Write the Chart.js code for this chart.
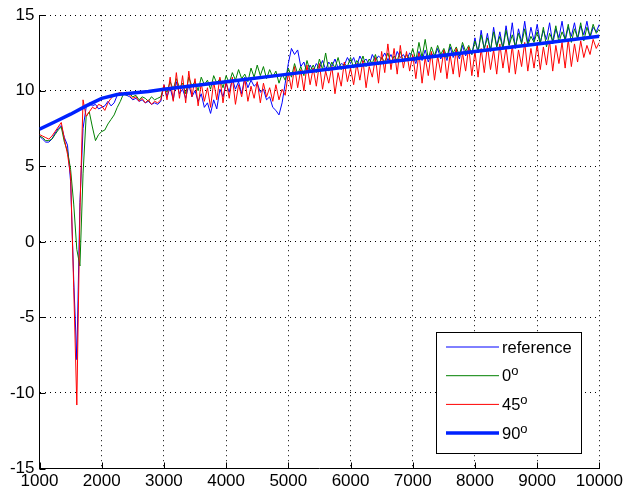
<!DOCTYPE html>
<html>
<head>
<meta charset="utf-8">
<script src="https://cdn.jsdelivr.net/npm/chart.js@4/dist/chart.umd.min.js"></script>
<style>
  html, body { margin: 0; padding: 0; background: #fff; }
  #wrap { width: 626px; height: 495px; }
</style>
</head>
<body>
<div id="wrap"><canvas id="myChart" width="626" height="495"></canvas></div>
<script>
// sample grid of the measured curves (Hz)
const freqStart = 1000;
const freqStep = 50;

// thin blue: reference
const refDb = [
    7.0, 6.8, 6.6, 6.6, 6.8, 7.2, 7.5, 7.7, 6.9, 6.4,
    4.0, -2.5, -7.8, 2.6, 7.5, 8.9, 9.2, 9.0, 9.1, 8.8,
    8.9, 9.0, 9.3, 9.0, 9.2, 9.7, 9.8, 9.8, 9.7, 9.6,
    9.4, 9.5, 9.3, 9.4, 9.2, 9.3, 9.1, 9.2, 9.1, 9.3,
    10.4, 9.6, 10.2, 9.4, 10.6, 9.8, 10.1, 9.5, 10.4, 9.6,
    10.0, 9.3, 9.8, 8.9, 9.2, 8.5, 9.4, 8.8, 10.1, 9.6,
    10.5, 9.9, 10.8, 10.1, 10.6, 9.8, 10.9, 10.2, 10.7, 10.3,
    10.5, 9.9, 10.1, 9.4, 9.6, 8.9, 8.7, 8.4, 9.2, 10.5,
    11.8, 12.8, 12.4, 12.7, 11.6, 11.9, 11.2, 11.7, 11.3, 11.8,
    11.5, 12.0, 11.4, 11.9, 11.6, 12.1, 11.5, 11.8, 11.7, 12.2,
    11.8, 12.2, 11.6, 12.3, 11.9, 12.1, 11.7, 12.4, 12.0, 12.3,
    12.1, 12.5, 12.0, 12.4, 11.9, 12.6, 12.2, 12.4, 12.0, 12.5,
    12.3, 11.8, 12.6, 12.0, 12.7, 11.9, 12.5, 12.2, 12.8, 12.1,
    12.6, 12.0, 12.9, 12.2, 12.7, 12.1, 13.0, 12.3, 12.8, 12.4,
    13.5, 12.5, 14.0, 12.7, 13.8, 12.6, 14.2, 12.9, 13.9, 12.8,
    14.3, 13.0, 14.5, 12.8, 14.1, 13.2, 14.6, 13.1, 14.2, 13.3,
    14.4, 13.2, 14.0, 13.4, 14.5, 13.1, 14.1, 13.5, 14.6, 13.3,
    14.2, 13.6, 14.5, 13.4, 14.3, 13.7, 14.6, 13.5, 14.2, 13.9,
    14.4
];

// green: 0 degrees
const deg0Db = [
    7.0, 6.9, 6.7, 6.7, 6.8, 7.1, 7.4, 7.6, 6.6, 6.0,
    4.8, 2.5, -0.5, -1.6, 4.5, 8.3, 8.6, 7.6, 6.7, 7.1,
    7.3, 7.4, 7.8, 8.1, 8.4, 8.9, 9.3, 9.8, 9.7, 9.8,
    9.6, 9.7, 9.4, 9.6, 9.5, 9.3, 9.6, 9.4, 9.5, 9.6,
    10.3, 9.9, 10.6, 10.1, 10.8, 10.2, 10.5, 9.8, 10.9, 10.3,
    10.6, 10.0, 10.9, 10.4, 10.7, 10.1, 11.0, 10.5, 10.8, 10.2,
    11.0, 10.5, 11.2, 10.7, 11.4, 10.8, 11.1, 10.6, 11.5, 10.9,
    11.7, 11.0, 11.6, 10.8, 11.4, 10.9, 11.3, 10.5, 11.1, 10.7,
    11.5, 10.9, 11.8, 11.1, 11.6, 11.0, 12.0, 11.3, 11.7, 11.2,
    12.1, 11.4, 12.5, 11.3, 11.9, 11.5, 12.2, 11.4, 11.8, 11.6,
    12.2, 11.5, 12.0, 11.7, 12.3, 11.6, 12.1, 11.8, 12.4, 11.7,
    12.2, 11.9, 12.5, 11.8, 12.3, 12.0, 12.6, 11.9, 12.4, 12.1,
    12.8, 12.0, 13.2, 12.2, 13.4, 12.1, 12.9, 12.3, 13.0, 12.4,
    12.8, 12.2, 13.1, 12.5, 12.9, 12.3, 13.2, 12.6, 13.0, 12.4,
    13.3, 12.6, 13.7, 12.8, 13.5, 12.7, 13.9, 12.9, 13.6, 12.8,
    14.0, 13.0, 13.7, 12.9, 13.8, 13.1, 14.1, 13.0, 13.6, 13.2,
    13.9, 13.1, 14.2, 12.9, 13.8, 13.3, 14.3, 13.2, 13.9, 13.4,
    14.4, 13.2, 14.1, 13.5, 14.5, 13.3, 14.2, 13.6, 14.4, 13.8,
    14.1
];

// red: 45 degrees
const deg45Db = [
    7.1, 7.0, 6.9, 6.8, 7.0, 7.3, 7.6, 7.9, 6.8, 5.8,
    4.4, -3.0, -10.8, 2.0, 9.4, 8.3, 8.6, 8.9, 8.8, 9.1,
    9.0, 8.7, 9.2, 9.5, 9.7, 9.8, 9.9, 9.8, 9.9, 9.7,
    9.5, 9.6, 9.3, 9.5, 9.2, 9.4, 9.1, 9.3, 9.2, 9.4,
    10.4, 9.4, 10.9, 9.3, 11.2, 9.5, 11.0, 9.2, 11.3, 9.6,
    10.8, 9.0, 10.5, 9.3, 10.2, 8.9, 10.6, 9.4, 10.9, 9.2,
    10.7, 9.5, 10.9, 9.1, 10.4, 9.6, 10.8, 9.3, 10.3, 9.5,
    10.6, 9.2, 10.5, 9.6, 10.2, 9.3, 10.4, 9.4, 10.1, 9.7,
    11.2, 10.1, 11.6, 10.2, 11.4, 10.0, 11.7, 10.4, 11.5, 10.3,
    11.8, 10.1, 11.3, 10.5, 11.6, 9.8, 11.2, 10.3, 11.9, 10.6,
    11.5, 10.4, 11.8, 10.7, 12.0, 10.2, 11.6, 10.9, 12.2, 10.5,
    12.6, 11.2, 13.1, 11.4, 12.8, 11.1, 13.0, 11.5, 12.6, 11.3,
    12.4, 10.8, 12.5, 10.5, 12.2, 11.0, 12.6, 10.7, 12.3, 11.2,
    12.7, 10.8, 12.4, 11.1, 12.8, 10.9, 12.5, 11.3, 12.9, 11.0,
    12.6, 10.9, 12.8, 11.2, 13.0, 11.4, 12.7, 11.1, 13.1, 11.5,
    12.9, 11.2, 13.0, 11.1, 12.7, 11.6, 13.2, 11.3, 12.8, 11.5,
    13.1, 11.4, 12.9, 11.7, 13.3, 11.3, 13.0, 11.8, 13.2, 11.5,
    13.4, 11.6, 13.1, 11.9, 13.3, 12.2, 13.0, 12.4, 13.4, 12.8,
    13.2
];

// thick blue: 90 degrees (smooth)
const deg90Freq = [1000, 1250, 1500, 1750, 2000, 2250, 2500, 2750, 3000, 4000, 5000, 6000, 7000, 8000, 9000, 10000];
const deg90Db   = [7.45, 7.95, 8.45, 9.0, 9.5, 9.75, 9.85, 9.95, 10.1, 10.6, 11.1, 11.6, 12.1, 12.6, 13.1, 13.6];

const xTicks = [1000, 2000, 3000, 4000, 5000, 6000, 7000, 8000, 9000, 10000];
const yTicks = [-15, -10, -5, 0, 5, 10, 15];

const FONT = '"Liberation Sans", Arial, sans-serif';

const toPoints = (vals) => vals.map((v, i) => ({ x: freqStart + i * freqStep, y: v }));

const legendOrder = [0, 1, 2, 3];

// small inward tick marks like the original axes
const insideTicks = {
    id: 'insideTicks',
    beforeDatasetsDraw(chart) {
        const { ctx, chartArea, scales } = chart;
        ctx.save();
        ctx.strokeStyle = '#000';
        ctx.lineWidth = 1;
        ctx.beginPath();
        xTicks.forEach(v => {
            const px = Math.round(scales.x.getPixelForValue(v)) + 0.5;
            ctx.moveTo(px, chartArea.bottom);
            ctx.lineTo(px, chartArea.bottom - 6);
        });
        yTicks.forEach(v => {
            const py = Math.round(scales.y.getPixelForValue(v)) + 0.5;
            ctx.moveTo(chartArea.left, py);
            ctx.lineTo(chartArea.left + 6, py);
        });
        ctx.stroke();
        ctx.restore();
    }
};

// boxed legend inside the plot, lower right
const boxLegend = {
    id: 'boxLegend',
    afterDatasetsDraw(chart) {
        const ctx = chart.ctx;
        const x0 = 436.5, y0 = 332.5, w = 145, h = 121;
        ctx.save();
        ctx.fillStyle = '#fff';
        ctx.fillRect(x0, y0, w, h);
        ctx.strokeStyle = '#000';
        ctx.lineWidth = 1;
        ctx.strokeRect(x0, y0, w, h);

        legendOrder.forEach((idx, i) => {
            const ds = chart.data.datasets[idx];
            const y = 347 + i * 28.7;
            ctx.beginPath();
            ctx.strokeStyle = ds.borderColor;
            ctx.lineWidth = ds.borderWidth;
            ctx.moveTo(446, y);
            ctx.lineTo(499, y);
            ctx.stroke();

            ctx.fillStyle = '#000';
            ctx.textBaseline = 'middle';
            ctx.textAlign = 'left';
            let label = ds.label;
            let sup = false;
            if (label.endsWith('°')) {
                label = label.slice(0, -1);
                sup = true;
            }
            ctx.font = '16.5px ' + FONT;
            ctx.fillText(label, 502, y + 1);
            if (sup) {
                const tw = ctx.measureText(label).width;
                ctx.font = '13px ' + FONT;
                ctx.fillText('o', 502 + tw, y - 4);
            }
        });
        ctx.restore();
    }
};

const ctx = document.getElementById('myChart').getContext('2d');
new Chart(ctx, {
    type: 'line',
    data: {
        datasets: [
            {
                label: 'reference',
                data: toPoints(refDb),
                borderColor: '#0000ff',
                borderWidth: 1,
                order: 4
            },
            {
                label: '0°',
                data: toPoints(deg0Db),
                borderColor: '#008000',
                borderWidth: 1,
                order: 3
            },
            {
                label: '45°',
                data: toPoints(deg45Db),
                borderColor: '#ff0000',
                borderWidth: 1,
                order: 2
            },
            {
                label: '90°',
                data: deg90Freq.map((f, i) => ({ x: f, y: deg90Db[i] })),
                borderColor: '#0022ff',
                borderWidth: 3.5,
                order: 1
            }
        ]
    },
    options: {
        responsive: false,
        animation: false,
        layout: {
            padding: { top: 12, right: 22, left: 0, bottom: 0 }
        },
        elements: {
            point: { radius: 0 },
            line: { tension: 0 }
        },
        plugins: {
            legend: { display: false },
            tooltip: { enabled: false }
        },
        scales: {
            x: {
                type: 'linear',
                min: 1000,
                max: 10000,
                afterFit: (s) => { s.height = 26.5; },
                ticks: {
                    stepSize: 1000,
                    autoSkip: false,
                    maxRotation: 0,
                    color: '#000',
                    padding: 3,
                    font: { family: FONT, size: 17 },
                    callback: (v) => String(v)
                },
                grid: {
                    color: '#000',
                    lineWidth: 1,
                    drawTicks: false
                },
                border: { color: '#000', width: 1, dash: [1, 4] }
            },
            y: {
                min: -15,
                max: 15,
                afterFit: (s) => { s.width = 39.5; },
                ticks: {
                    stepSize: 5,
                    color: '#000',
                    padding: 5,
                    font: { family: FONT, size: 17 },
                    callback: (v) => String(v)
                },
                grid: {
                    color: '#000',
                    lineWidth: 1,
                    drawTicks: false
                },
                border: { color: '#000', width: 1, dash: [1, 4] }
            }
        }
    },
    plugins: [insideTicks, boxLegend]
});
</script>
</body>
</html>
